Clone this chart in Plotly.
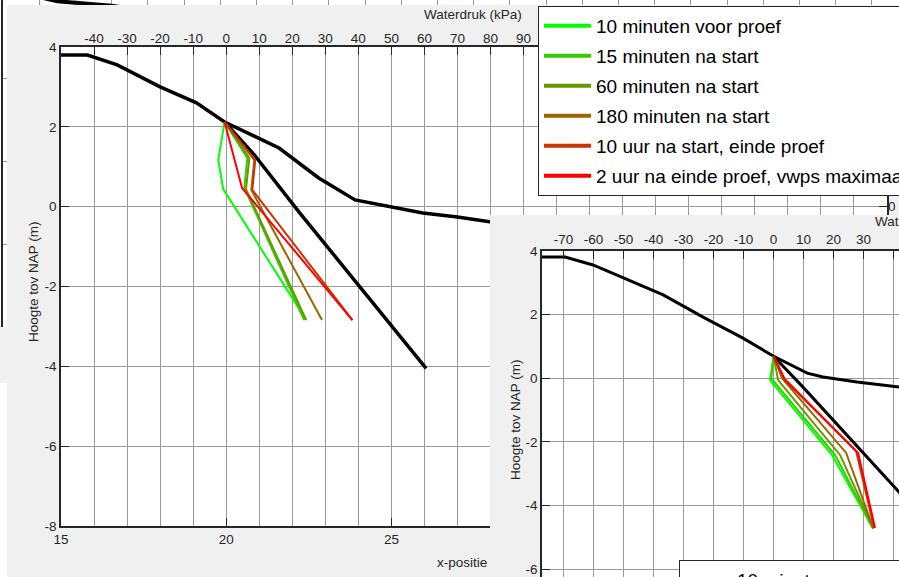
import plotly.graph_objects as go

W, H = 899, 577

# ---------------- data ----------------
series_names = [
    "10 minuten voor proef",
    "15 minuten na start",
    "60 minuten na start",
    "180 minuten na start",
    "10 uur na start, einde proef",
    "2 uur na einde proef, vwps maximaal",
]
series_colors = ["#00ff00", "#33cc00", "#669900", "#996600", "#cc3300", "#ff0000"]

# Figure A: x-positie (m) vs hoogte tov NAP (m)
a_upper_x = [15.0, 15.8, 16.7, 18.0, 19.1, 19.95, 21.6, 22.8, 23.9, 24.95, 25.95, 27.0, 28.0, 29.0]
a_upper_y = [3.8, 3.8, 3.55, 3.0, 2.6, 2.12, 1.47, 0.72, 0.17, -0.01, -0.16, -0.26, -0.39, -0.5]
a_lower_x = [19.95, 20.85, 22.2, 26.05]
a_lower_y = [2.12, 1.3, -0.13, -4.05]

a_series_x = [
    [19.95, 19.76, 19.91, 22.42],
    [19.95, 20.64, 20.55, 22.36],
    [19.95, 20.70, 20.60, 22.42],
    [19.95, 20.85, 20.76, 22.90],
    [19.95, 20.88, 20.79, 23.82],
    [19.95, 20.48, 23.82],
]
a_series_y = [
    [2.12, 1.17, 0.44, -2.84],
    [2.12, 1.22, 0.47, -2.84],
    [2.12, 1.22, 0.44, -2.84],
    [2.12, 1.17, 0.42, -2.84],
    [2.12, 1.17, 0.42, -2.84],
    [2.12, 0.47, -2.84],
]

# Figure B: waterdruk (kPa) vs hoogte tov NAP (m)
b_upper_x = [-77.2, -69.5, -60.2, -50.2, -36.8, -23.5, -10.2, 0.0, 11.2, 16.5, 27.8, 41.8, 50.0]
b_upper_y = [3.81, 3.81, 3.56, 3.15, 2.62, 1.92, 1.26, 0.69, 0.16, 0.04, -0.12, -0.28, -0.38]
b_lower_x = [0.0, 9.8, 41.8, 50.0]
b_lower_y = [0.69, -0.28, -3.58, -4.43]

b_series_x = [
    [0.0, -1.2, 19.5, 33.2],
    [0.0, -0.8, 20.5, 33.2],
    [0.0, 1.5, 22.2, 33.2],
    [0.0, 2.8, 24.2, 33.2],
    [0.0, 3.5, 27.5, 33.5],
    [0.0, 3.8, 28.2, 33.8],
]
b_series_y = [
    [0.69, -0.06, -2.42, -4.74],
    [0.69, 0.0, -2.42, -4.72],
    [0.69, -0.06, -2.42, -4.71],
    [0.69, 0.0, -2.35, -4.71],
    [0.69, 0.0, -2.29, -4.71],
    [0.69, -0.06, -2.35, -4.71],
]

# Figure behind A (only its top edge shows)
c_line_x = [15.0, 16.5, 18.0, 19.5]
c_line_y = [0.15, -0.15, -0.26, -0.45]

# tick labels (labels hidden behind the legend are left blank)
a_x_ticks = [15, 20, 25, 30, 35, 40]
a_x_labels = ["15", "20", "25", "30", "35", "40"]
a_kpa_ticks = list(range(-40, 201, 10))
a_kpa_labels = [str(v) if v <= 90 else "" for v in a_kpa_ticks]
y_ticks = [-8, -6, -4, -2, 0, 2, 4]
y_labels = ["-8", "-6", "-4", "-2", "0", "2", "4"]
y_right_labels = ["", "", "", "", "0", "", ""]
b_kpa_ticks = list(range(-70, 51, 10))
b_kpa_labels = [str(v) for v in b_kpa_ticks]
b_y_ticks = [-6, -4, -2, 0, 2, 4]
b_y_labels = ["-6", "-4", "-2", "0", "2", "4"]

# ---------------- style ----------------
PANEL = "#f0f0f0"
GRID = "#9a9a9a"
AXIS = "#262626"
FONT = "Liberation Sans, Arial, sans-serif"
TICKFONT = dict(family=FONT, size=13.5, color=AXIS)


def fx(px):
    return px / W


def fy(py):
    return 1 - py / H


fig = go.Figure()


def panel(xa, ya):
    fig.add_trace(go.Scatter(
        x=[0, 1, 1, 0, 0], y=[0, 0, 1, 1, 0], mode="lines", fill="toself",
        fillcolor=PANEL, line=dict(width=0), xaxis=xa, yaxis=ya,
        hoverinfo="skip", showlegend=False))


def axis_anchor(xa, ya):
    # empty trace so that an overlaid axis gets drawn
    fig.add_trace(go.Scatter(x=[None], y=[None], mode="lines", xaxis=xa, yaxis=ya,
                             hoverinfo="skip", showlegend=False))


# background window (figure C)
panel("x", "y")
fig.add_trace(go.Scatter(x=c_line_x, y=c_line_y, mode="lines",
                         line=dict(color="black", width=4),
                         xaxis="x2", yaxis="y2", showlegend=False))

# figure A
panel("x3", "y3")
axis_anchor("x5", "y4")
axis_anchor("x4", "y5")
fig.add_trace(go.Scatter(x=a_upper_x, y=a_upper_y, mode="lines",
                         line=dict(color="black", width=3.5),
                         xaxis="x4", yaxis="y4", showlegend=False))
fig.add_trace(go.Scatter(x=a_lower_x, y=a_lower_y, mode="lines",
                         line=dict(color="black", width=3.5),
                         xaxis="x4", yaxis="y4", showlegend=False))
for sx, sy, c in zip(a_series_x, a_series_y, series_colors):
    fig.add_trace(go.Scatter(x=sx, y=sy, mode="lines", line=dict(color=c, width=2),
                             xaxis="x4", yaxis="y4", showlegend=False))

# legend entries of figure A
for i, (n, c) in enumerate(zip(series_names, series_colors)):
    fig.add_trace(go.Scatter(x=[None], y=[None], mode="lines", name=n,
                             line=dict(color=c, width=4), legendgroup=f"a{i}",
                             legend="legend", xaxis="x4", yaxis="y4"))

# figure B
panel("x6", "y6")
fig.add_trace(go.Scatter(x=b_upper_x, y=b_upper_y, mode="lines",
                         line=dict(color="black", width=3),
                         xaxis="x7", yaxis="y7", showlegend=False))
fig.add_trace(go.Scatter(x=b_lower_x, y=b_lower_y, mode="lines",
                         line=dict(color="black", width=3),
                         xaxis="x7", yaxis="y7", showlegend=False))
for sx, sy, c in zip(b_series_x, b_series_y, series_colors):
    fig.add_trace(go.Scatter(x=sx, y=sy, mode="lines", line=dict(color=c, width=2),
                             xaxis="x7", yaxis="y7", showlegend=False))
for i, (n, c) in enumerate(zip(series_names, series_colors)):
    fig.add_trace(go.Scatter(x=[None], y=[None], mode="lines", name=n,
                             line=dict(color=c, width=4), legendgroup=f"b{i}",
                             legend="legend2", xaxis="x7", yaxis="y7"))

hidden = dict(visible=False, range=[0, 1], fixedrange=True)

legend_style = dict(
    xanchor="left", yanchor="top", bgcolor="white", bordercolor=AXIS, borderwidth=1,
    font=dict(family=FONT, size=19, color="black"), itemwidth=47,
    tracegroupgap=2.3, traceorder="grouped",
)

fig.update_layout(
    width=W, height=H,
    margin=dict(l=0, r=0, t=0, b=0, pad=0, autoexpand=False),
    paper_bgcolor="white", plot_bgcolor="white",
    font=dict(family=FONT, color=AXIS),
    showlegend=True,
    # figure C window (grey strip below its axes)
    xaxis=dict(domain=[0, 1], anchor="y", **hidden),
    yaxis=dict(domain=[fy(383), fy(327)], anchor="x", **hidden),
    xaxis2=dict(domain=[fx(3), 1], anchor="y2", range=[15, 15 + 896 / 36.2],
                tick0=15, dtick=1, showgrid=True, gridcolor=GRID, gridwidth=1,
                showticklabels=False, ticks="", zeroline=False, showline=False),
    yaxis2=dict(domain=[fy(327), 1], anchor="x2", range=[-8, -8 + 327 / 41.5],
                tick0=-8, dtick=2, showgrid=True, gridcolor=GRID, gridwidth=1,
                showticklabels=False, ticks="", zeroline=False,
                showline=True, linecolor=AXIS, linewidth=1.5),
    # figure A window
    xaxis3=dict(domain=[fx(7), 1], anchor="y3", **hidden),
    yaxis3=dict(domain=[0, fy(5)], anchor="x3", **hidden),
    xaxis4=dict(domain=[fx(61), fx(887)], anchor="y4", range=[15, 40], side="bottom",
                tickvals=a_x_ticks, ticktext=a_x_labels, ticks="inside", ticklen=8,
                tickcolor=AXIS, tickfont=TICKFONT, showgrid=False, zeroline=False,
                showline=True, mirror=True, linecolor=AXIS, linewidth=1.5),
    yaxis4=dict(domain=[fy(526), fy(47)], anchor="x4", range=[-8, 4],
                tickvals=y_ticks, ticktext=y_labels, ticks="inside", ticklen=8,
                tickcolor=AXIS, tickfont=TICKFONT, showgrid=True, gridcolor=GRID,
                gridwidth=1, zeroline=False, showline=True, mirror=True,
                linecolor=AXIS, linewidth=1.5),
    xaxis5=dict(overlaying="x4", anchor="y4", side="top", range=[-50, 200],
                tickvals=a_kpa_ticks, ticktext=a_kpa_labels, ticks="inside", ticklen=8,
                tickcolor=AXIS, tickfont=TICKFONT, showgrid=True, gridcolor=GRID,
                gridwidth=1, zeroline=False, showline=False),
    yaxis5=dict(overlaying="y4", anchor="x4", side="right", range=[-8, 4],
                tickvals=y_ticks, ticktext=y_right_labels, ticks="inside", ticklen=8,
                tickcolor=AXIS, tickfont=TICKFONT, showgrid=False, zeroline=False,
                showline=False),
    # figure B window
    xaxis6=dict(domain=[fx(490), 1], anchor="y6", **hidden),
    yaxis6=dict(domain=[0, fy(215)], anchor="x6", **hidden),
    xaxis7=dict(domain=[fx(542), 1], anchor="y7", side="top",
                range=[-77.2, -77.2 + 357 / 3.0],
                tickvals=b_kpa_ticks, ticktext=b_kpa_labels, ticks="inside", ticklen=8,
                tickcolor=AXIS, tickfont=TICKFONT, showgrid=True, gridcolor=GRID,
                gridwidth=1, zeroline=False, showline=True, linecolor=AXIS,
                linewidth=1.5),
    yaxis7=dict(domain=[0, fy(251)], anchor="x7", range=[4 - 326 / 31.8, 4],
                tickvals=b_y_ticks, ticktext=b_y_labels, ticks="inside", ticklen=8,
                tickcolor=AXIS, tickfont=TICKFONT, showgrid=True, gridcolor=GRID,
                gridwidth=1, zeroline=False, showline=True, linecolor=AXIS,
                linewidth=1.5),
    legend=dict(x=fx(538), y=fy(6), **legend_style),
    legend2=dict(x=fx(679), y=fy(560), **legend_style),
)

title_font = dict(family=FONT, size=13.5, color=AXIS)
annotations = [
    dict(text="Waterdruk (kPa)", x=fx(473.5), y=fy(14), xanchor="center", yanchor="middle"),
    dict(text="x-positie", x=fx(462), y=fy(562), xanchor="center", yanchor="middle"),
    dict(text="Hoogte tov NAP (m)", x=fx(33), y=fy(282), xanchor="center",
         yanchor="middle", textangle=-90),
    dict(text="Waterdruk (kPa)", x=fx(873), y=fy(222), xanchor="left", yanchor="middle"),
    dict(text="Hoogte tov NAP (m)", x=fx(515), y=fy(420), xanchor="center",
         yanchor="middle", textangle=-90),
]
for a in annotations:
    a.update(xref="paper", yref="paper", showarrow=False, font=title_font)
fig.update_layout(annotations=annotations)

fig.write_html("out.html")
